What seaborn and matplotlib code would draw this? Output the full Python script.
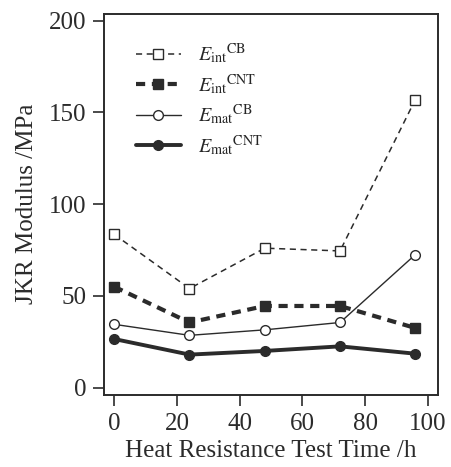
import numpy as np
import pandas as pd
import matplotlib
matplotlib.use("Agg")
import matplotlib.pyplot as plt
import seaborn as sns

# Data
time_h = [0, 24, 48, 72, 96]
e_int_cb = [83.5, 54.0, 76.0, 74.5, 157.0]
e_int_cnt = [55.0, 35.5, 44.5, 44.5, 32.5]
e_mat_cb = [34.5, 28.5, 31.5, 35.5, 72.5]
e_mat_cnt = [26.5, 18.0, 20.0, 22.5, 18.5]

labels = [r'$E_{\mathrm{int}}{}^{\mathrm{CB}}$',
          r'$E_{\mathrm{int}}{}^{\mathrm{CNT}}$',
          r'$E_{\mathrm{mat}}{}^{\mathrm{CB}}$',
          r'$E_{\mathrm{mat}}{}^{\mathrm{CNT}}$']

sns.set_style("ticks")
plt.rcParams['font.family'] = ['Liberation Serif', 'DejaVu Serif']
plt.rcParams['mathtext.fontset'] = 'stix'

INK = "#2b2b2b"

fig, ax = plt.subplots(figsize=(4.51, 4.67), dpi=100)
fig.subplots_adjust(left=0.231, right=0.971, top=0.970, bottom=0.155)

styles = [
    dict(ls=(0, (4, 3)), lw=1.1, marker='s', mfc='white', mec=INK, ms=7, mew=1.0),
    dict(ls=(0, (2.2, 1.6)), lw=3.0, marker='s', mfc=INK, mec=INK, ms=7, mew=1.0),
    dict(ls='-', lw=1.0, marker='o', mfc='white', mec=INK, ms=7, mew=1.0),
    dict(ls='-', lw=2.8, marker='o', mfc=INK, mec=INK, ms=7, mew=1.0),
]

for vals, lab, st in zip([e_int_cb, e_int_cnt, e_mat_cb, e_mat_cnt], labels, styles):
    df = pd.DataFrame({"t": time_h, "E": vals})
    sns.lineplot(data=df, x="t", y="E", ax=ax, color=INK, label=lab,
                 linestyle=st['ls'], linewidth=st['lw'], marker=st['marker'],
                 markerfacecolor=st['mfc'], markeredgecolor=st['mec'],
                 markersize=st['ms'], markeredgewidth=st['mew'])

ax.set_xlim(-3.2, 103.2)
ax.set_ylim(-3.8, 203.6)
ax.set_xticks([0, 20, 40, 60, 80, 100])
ax.set_yticks([0, 50, 100, 150, 200])
ax.set_xlabel("Heat Resistance Test Time /h", fontsize=18, color=INK, labelpad=4)
ax.set_ylabel("JKR Modulus /MPa", fontsize=18, color=INK, labelpad=8)
ax.tick_params(axis='x', pad=5)
ax.tick_params(axis='y', pad=5)
ax.tick_params(axis='both', direction='out', length=8, width=1.2, colors=INK,
               labelsize=18)

for spine in ax.spines.values():
    spine.set_visible(True)
    spine.set_color(INK)
    spine.set_linewidth(1.4)

leg = ax.legend(loc='upper left', bbox_to_anchor=(0.04, 0.975), frameon=False,
                fontsize=14.5, handlelength=2.25, labelspacing=0.28, handletextpad=0.85)

fig.savefig("out.png", dpi=100)
